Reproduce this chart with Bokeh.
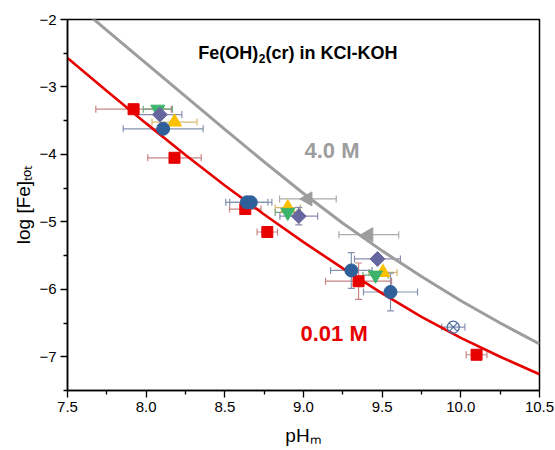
import math
from bokeh.plotting import figure
from bokeh.models import Range1d, FixedTicker, ColumnDataSource, Whisker, TeeHead, Label
from bokeh.embed import file_html
from bokeh.resources import INLINE

# ---------------- data ----------------
ph_grid = [7.5, 7.75, 8.0, 8.25, 8.5, 8.75, 9.0, 9.25, 9.5, 9.75, 10.0, 10.25, 10.5]
model_001M = [-2.57, -3.06, -3.54, -4.01, -4.46, -4.89, -5.30, -5.69, -6.06, -6.41, -6.72, -7.00, -7.26]
model_40M = [-1.67, -2.16, -2.65, -3.14, -3.63, -4.11, -4.58, -5.02, -5.43, -5.81, -6.17, -6.50, -6.81]

sq_ph = [7.92, 8.18, 8.63, 8.77, 9.35, 10.10]
sq_logfe = [-3.33, -4.05, -4.81, -5.15, -5.88, -6.97]
sq_xerr = [0.24, 0.17, 0.10, 0.065, 0.21, 0.066]
sq_yerr = [0.0, 0.0, 0.0, 0.0, 0.27, 0.0]

up_ph = [8.18, 8.90, 9.505]
up_logfe = [-3.52, -4.79, -5.75]
up_xerr = [0.143, 0.08, 0.09]

dn_ph = [8.074, 8.90, 9.458]
dn_logfe = [-3.33, -4.86, -5.79]
dn_xerr = [0.093, 0.08, 0.08]

di_ph = [8.087, 8.97, 9.47]
di_logfe = [-3.41, -4.915, -5.55]
di_xerr = [0.14, 0.12, 0.146]
di_yerr = [0.0, 0.13, 0.0]

ci_ph = [8.108, 8.64, 8.665, 9.304, 9.553]
ci_logfe = [-3.62, -4.71, -4.71, -5.72, -6.04]
ci_xerr = [0.254, 0.134, 0.134, 0.132, 0.172]
ci_yerr = [0.0, 0.05, 0.0, 0.265, 0.28]

ox_ph = [9.952]
ox_logfe = [-6.56]
ox_xerr = [0.074]

gt_ph = [9.028, 9.415]
gt_logfe = [-4.66, -5.19]
gt_xerr = [0.18, 0.19]

x_ticks = [7.5, 8.0, 8.5, 9.0, 9.5, 10.0, 10.5]
x_minor = [7.75, 8.25, 8.75, 9.25, 9.75, 10.25]
y_ticks = [-2, -3, -4, -5, -6, -7]
y_minor = [-2.5, -3.5, -4.5, -5.5, -6.5, -7.5]
x_labels = ["7.5", "8.0", "8.5", "9.0", "9.5", "10.0", "10.5"]
y_labels = ["\u22122", "\u22123", "\u22124", "\u22125", "\u22126", "\u22127"]

FONT = "Liberation Sans"
RED = "#e60000"
GRAY = "#9d9d9d"

p = figure(width=555, height=450, output_backend="svg", toolbar_location=None,
           x_range=Range1d(7.5, 10.5), y_range=Range1d(-7.5, -2),
           min_border_left=67, min_border_right=16, min_border_top=19, min_border_bottom=60)
p.grid.visible = False
p.background_fill_color = "white"
p.border_fill_color = "white"
p.outline_line_color = "black"
p.outline_line_width = 1.5
p.outline_line_alpha = 1.0

for ax in (p.xaxis[0], p.yaxis[0]):
    ax.axis_line_width = 1.5
    ax.axis_line_color = "black"
    ax.major_tick_line_width = 1.3
    ax.minor_tick_line_width = 1.3
    ax.major_tick_out = 7
    ax.major_tick_in = 0
    ax.minor_tick_out = 4
    ax.minor_tick_in = 0
    ax.major_label_text_font = FONT
    ax.major_label_text_font_size = "15px"
    ax.major_label_text_color = "black"
    ax.axis_label_text_font = FONT
    ax.axis_label_text_font_size = "19px"
    ax.axis_label_text_font_style = "normal"
    ax.axis_label_text_color = "black"

p.xaxis.axis_label = "pH\u2098"
p.yaxis.axis_label = "log [Fe]\u209c\u2092\u209c"
p.xaxis.axis_label_standoff = 10
p.yaxis.axis_label_standoff = 2

p.xaxis.ticker = FixedTicker(ticks=x_ticks, minor_ticks=x_minor)
p.yaxis.ticker = FixedTicker(ticks=y_ticks, minor_ticks=y_minor)
p.xaxis.major_label_overrides = {t: s for t, s in zip(x_ticks, x_labels)}
p.yaxis.major_label_overrides = {t: s for t, s in zip(y_ticks, y_labels)}
p.xaxis.major_label_standoff = 4
p.yaxis.major_label_standoff = 4

# model curves
p.line(ph_grid, model_40M, line_color=GRAY, line_width=3)
p.line(ph_grid, model_001M, line_color=RED, line_width=2.6)


def xbars(xs, ys, errs, color):
    src = ColumnDataSource(dict(y=ys, lo=[a - e for a, e in zip(xs, errs)],
                                hi=[a + e for a, e in zip(xs, errs)]))
    w = Whisker(source=src, base="y", lower="lo", upper="hi", dimension="width",
                line_color=color, line_width=1.2, level="underlay",
                upper_head=TeeHead(size=7, line_color=color, line_width=1.2),
                lower_head=TeeHead(size=7, line_color=color, line_width=1.2))
    p.add_layout(w)


def ybars(xs, ys, errs, color):
    sel = [(a, b, e) for a, b, e in zip(xs, ys, errs) if e > 0]
    if not sel:
        return
    src = ColumnDataSource(dict(x=[s[0] for s in sel], lo=[s[1] - s[2] for s in sel],
                                hi=[s[1] + s[2] for s in sel]))
    w = Whisker(source=src, base="x", lower="lo", upper="hi", dimension="height",
                line_color=color, line_width=1.2, level="underlay",
                upper_head=TeeHead(size=7, line_color=color, line_width=1.2),
                lower_head=TeeHead(size=7, line_color=color, line_width=1.2))
    p.add_layout(w)


xbars(sq_ph, sq_logfe, sq_xerr, "#c98484")
ybars(sq_ph, sq_logfe, sq_yerr, "#c98484")
xbars(up_ph, up_logfe, up_xerr, "#d8b86e")
xbars(dn_ph, dn_logfe, dn_xerr, "#6fa57f")
xbars(di_ph, di_logfe, di_xerr, "#8a8ab0")
ybars(di_ph, di_logfe, di_yerr, "#8a8ab0")
xbars(ci_ph, ci_logfe, ci_xerr, "#8392b0")
ybars(ci_ph, ci_logfe, ci_yerr, "#8392b0")
xbars(ox_ph, ox_logfe, ox_xerr, "#8392b0")
xbars(gt_ph, gt_logfe, gt_xerr, "#ababab")

# markers
p.scatter(sq_ph, sq_logfe, marker="square", size=11, fill_color=RED, line_color=RED)
p.scatter(up_ph, up_logfe, marker="triangle", size=14, fill_color="#fbc000", line_color="#fbc000")
p.scatter(dn_ph, dn_logfe, marker="inverted_triangle", size=14, fill_color="#3db36b", line_color="#3db36b")
p.scatter(di_ph, di_logfe, marker="square", angle=math.pi / 4, size=10.5,
          fill_color="#67679f", line_color="#67679f")
p.scatter(ci_ph, ci_logfe, marker="circle", size=13, fill_color="#2f609a", line_color="#2f609a")
p.scatter(ox_ph, ox_logfe, marker="circle_x", size=12, fill_color=None, line_color="#4d70a3", line_width=1.3)
p.scatter(gt_ph, gt_logfe, marker="triangle", angle=math.pi / 2, size=14,
          fill_color=GRAY, line_color=GRAY)


def lab(x, y, text, size, color="black", bold=False, angle=0.0):
    p.add_layout(Label(x=x, y=y, text=text, text_font=FONT, text_font_size=size,
                       text_color=color, text_font_style="bold" if bold else "normal",
                       text_align="left", text_baseline="alphabetic", angle=angle))


# in-plot texts
lab(8.331, -2.504, "Fe(OH)", "18px", bold=True)
lab(8.716, -2.578, "2", "12px", bold=True)
lab(8.758, -2.504, "(cr) in KCl-KOH", "18px", bold=True)
lab(9.006, -3.942, "4.0 M", "22px", color=GRAY, bold=True)
lab(8.981, -6.655, "0.01 M", "22px", color=RED, bold=True)

open("out.html", "w").write(file_html(p, INLINE))
